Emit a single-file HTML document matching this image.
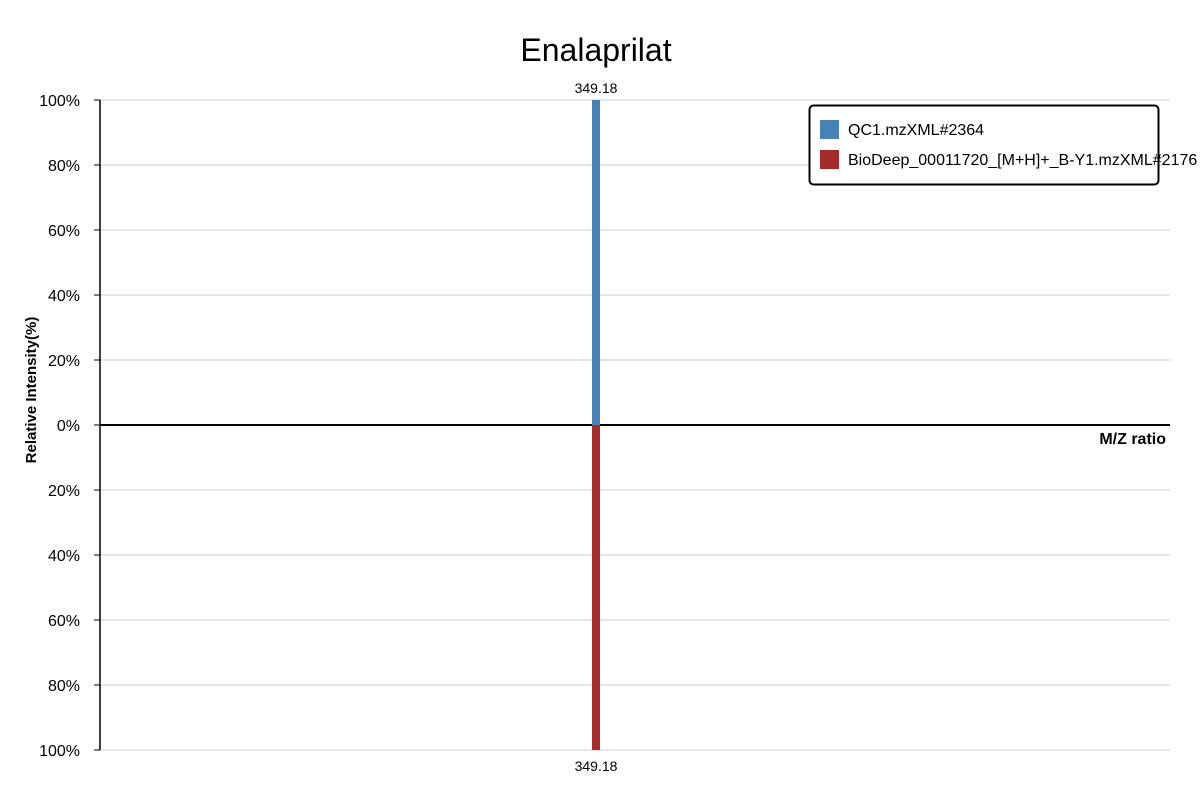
<!DOCTYPE html>
<html><head><meta charset="utf-8"><style>
body{margin:0;background:#fff;font-family:"Liberation Sans",sans-serif}
svg text{font-family:"Liberation Sans",sans-serif}
</style></head><body>
<svg id="chart" width="1200" height="800">
<text x="596" y="61" font-size="32" text-anchor="middle">Enalaprilat</text>
<g id="grid"></g><g id="axes"></g><g id="bars"></g>
<text transform="translate(36,390) rotate(-90)" font-size="15" font-weight="bold" text-anchor="middle">Relative Intensity(%)</text>
<text x="1166" y="444" font-size="16" font-weight="bold" text-anchor="end">M/Z ratio</text>
<g>
<rect x="809.5" y="105.5" width="349" height="79" rx="4" fill="#fff" stroke="#000" stroke-width="2"/>
<rect x="820" y="120" width="19" height="19" fill="#4682b4"/>
<text x="848" y="135" font-size="16">QC1.mzXML#2364</text>
<rect x="820" y="150" width="19" height="19" fill="#a52a2a"/>
<text x="848" y="165" font-size="16">BioDeep_00011720_[M+H]+_B-Y1.mzXML#2176</text>
</g>
</svg>
<script>
const mzTop=[349.18];
const intTop=[100];
const mzBottom=[349.18];
const intBottom=[100];
const yTicks=[100,80,60,40,20,0,-20,-40,-60,-80,-100];
const NS="http://www.w3.org/2000/svg";
const L=100,R=1170,T=100,B=750;
const xDom=[249.18,464.9];
const x=v=>L+(v-xDom[0])/(xDom[1]-xDom[0])*(R-L);
const y=v=>T+(100-v)/200*(B-T);
function mk(tag,attrs,parent){const e=document.createElementNS(NS,tag);for(const k in attrs)e.setAttribute(k,attrs[k]);parent.appendChild(e);return e;}
const grid=document.getElementById('grid'),axes=document.getElementById('axes'),bars=document.getElementById('bars');
yTicks.forEach(t=>{
  const g=mk('line',{x1:L,x2:R,y1:y(t),y2:y(t),stroke:'#ddd','stroke-width':1.5},grid);
  
  
  mk('line',{x1:L-6,x2:L,y1:y(t),y2:y(t),stroke:'#000'},axes);
  const tx=mk('text',{x:L-20,y:y(t)+6,'font-size':16,'text-anchor':'end'},axes);
  tx.textContent=Math.abs(t)+'%';
  
  
});
const ya=mk('line',{x1:L,x2:L,y1:T,y2:B,stroke:'#000','stroke-width':1.5},axes);


mzTop.forEach((m,i)=>{
  const r=mk('rect',{x:x(m)-4,y:y(intTop[i]),width:8,height:y(0)-y(intTop[i]),fill:'#4682b4'},bars);
  
  
  const t=mk('text',{x:x(m),y:y(intTop[i])-7,'font-size':14,'text-anchor':'middle'},bars);
  t.textContent=m.toFixed(2);
  
  
});
mzBottom.forEach((m,i)=>{
  const r=mk('rect',{x:x(m)-4,y:y(0),width:8,height:y(-intBottom[i])-y(0),fill:'#a52a2a'},bars);
  
  
  const t=mk('text',{x:x(m),y:y(-intBottom[i])+21,'font-size':14,'text-anchor':'middle'},bars);
  t.textContent=m.toFixed(2);
  
  
});
const xa=mk('line',{x1:L,x2:R,y1:y(0),y2:y(0),stroke:'#000','stroke-width':2},axes);


</script>
</body></html>
